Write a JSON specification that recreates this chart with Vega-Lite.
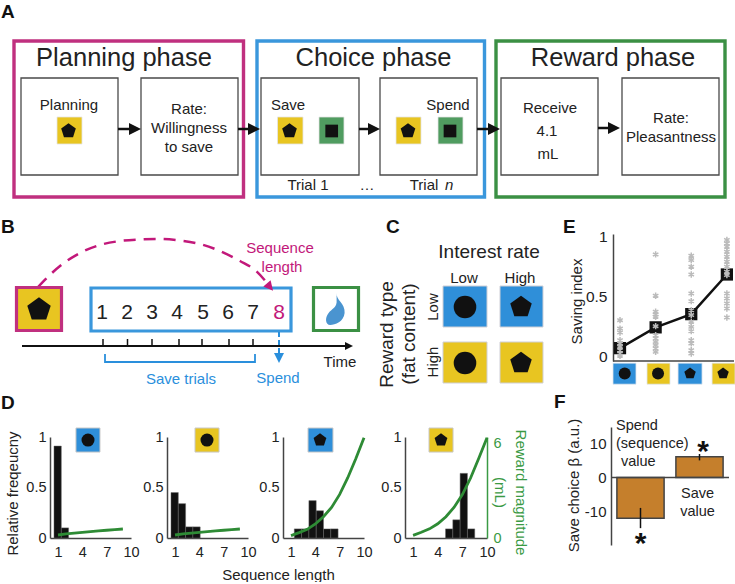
{
"$schema":"https://vega.github.io/schema/vega-lite/v6.json",
"padding":0,"background":"white","spacing":0,"bounds":"flush",
"resolve":{"scale":{"fill":"independent","stroke":"independent","color":"independent","size":"independent","shape":"independent"}},
"config":{"font":"Liberation Sans","view":{"stroke":null},
"axis":{"ticks":false,"grid":false,"domainColor":"#444","domainWidth":1.5,"labelColor":"#222","labelFontSize":14.5,"labelPadding":4,"titleFontSize":15,"titleFontWeight":"normal","titleColor":"#222","labelFlush":false,"labelOverlap":false,"labelBound":false}},
"vconcat":[
{"width":735,"height":234,
 "encoding":{"x":{"field":"x","type":"quantitative","scale":{"domain":[0,735]},"axis":null},"y":{"field":"y","type":"quantitative","scale":{"domain":[234,0]},"axis":null}},
 "layer":[
 {"data":{"values":[{"x":14,"x2":243.5,"y":41,"y2":197,"phase":"Planning"},{"x":257,"x2":484.5,"y":41,"y2":197,"phase":"Choice"},{"x":496,"x2":725,"y":41,"y2":197,"phase":"Reward"}]},
  "mark":{"type":"rect","fill":"transparent","strokeWidth":3.4},
  "encoding":{"x2":{"field":"x2"},"y2":{"field":"y2"},"stroke":{"field":"phase","type":"nominal","scale":{"domain":["Planning","Choice","Reward"],"range":["#c0307f","#3a97dc","#3b9044"]},"legend":null}}},
 {"data":{"values":[{"x":21,"x2":118,"y":78,"y2":175},{"x":141,"x2":238,"y":78,"y2":175},{"x":261,"x2":359,"y":78,"y2":175},{"x":380,"x2":477,"y":78,"y2":175},{"x":501,"x2":598,"y":78,"y2":175},{"x":622,"x2":719,"y":78,"y2":175}]},
  "mark":{"type":"rect","fill":"white","stroke":"#4a4a4a","strokeWidth":1.3},
  "encoding":{"x2":{"field":"x2"},"y2":{"field":"y2"}}},
 {"data":{"values":[{"x":57,"x2":82,"y":117,"y2":144,"kind":"high"},{"x":277.5,"x2":303,"y":117,"y2":144,"kind":"high"},{"x":319,"x2":344,"y":117,"y2":144,"kind":"spend"},{"x":396,"x2":421,"y":117,"y2":144,"kind":"high"},{"x":438,"x2":463,"y":117,"y2":144,"kind":"spend"}]},
  "mark":{"type":"rect","stroke":"#e4e4e4","strokeWidth":0.8},
  "encoding":{"x2":{"field":"x2"},"y2":{"field":"y2"},"fill":{"field":"kind","type":"nominal","scale":{"domain":["high","spend"],"range":["#e8c521","#509c60"]},"legend":null}}},
 {"data":{"values":[{"x":68.5,"y":131},{"x":289.5,"y":131},{"x":408,"y":131}]},
  "mark":{"type":"point","filled":true,"opacity":1,"color":"#111","size":237,"shape":"M0,-1L0.951,-0.309L0.588,0.809L-0.588,0.809L-0.951,-0.309Z"}},
 {"data":{"values":[{"x":331.7,"y":131},{"x":450,"y":131}]},
  "mark":{"type":"point","filled":true,"opacity":1,"color":"#111","size":161,"shape":"square"}},
 {"data":{"name":"arrowsA"},"mark":{"type":"rule","color":"#111","strokeWidth":2.5},"encoding":{"x2":{"field":"x2"}}},
 {"data":{"name":"arrowsA"},"mark":{"type":"point","filled":true,"opacity":1,"color":"#111","size":144,"shape":"M-1,-1L1,0L-1,1Z"},"encoding":{"x":{"field":"x2","type":"quantitative"}}},
 {"data":{"values":[{"x":124,"y":66,"t":"Planning phase","role":"title"},{"x":373.5,"y":66,"t":"Choice phase","role":"title"},{"x":613,"y":66,"t":"Reward phase","role":"title"},
  {"x":69,"y":110,"t":"Planning","role":"label"},{"x":189,"y":114,"t":"Rate:","role":"label"},{"x":189,"y":133,"t":"Willingness","role":"label"},{"x":189,"y":152,"t":"to save","role":"label"},
  {"x":288,"y":110,"t":"Save","role":"label"},{"x":448,"y":110,"t":"Spend","role":"label"},{"x":308,"y":190,"t":"Trial 1","role":"label"},{"x":367,"y":190,"t":"…","role":"label"},{"x":424,"y":190,"t":"Trial","role":"label"},
  {"x":550,"y":113,"t":"Receive","role":"label"},{"x":547,"y":136,"t":"4.1","role":"label"},{"x":548,"y":159,"t":"mL","role":"label"},{"x":671,"y":123,"t":"Rate:","role":"label"},{"x":671,"y":142,"t":"Pleasantness","role":"label"}]},
  "mark":{"type":"text","align":"center","baseline":"alphabetic","color":"#222"},
  "encoding":{"text":{"field":"t"},"size":{"field":"role","type":"nominal","scale":{"type":"ordinal","domain":["title","label"],"range":[25.5,15]},"legend":null}}},
 {"data":{"values":[{"x":445,"y":190,"t":"n"}]},"mark":{"type":"text","align":"left","baseline":"alphabetic","color":"#222","fontSize":15,"fontStyle":"italic"},"encoding":{"text":{"field":"t"}}},
 {"data":{"values":[{"x":1,"y":18,"t":"A"}]},"mark":{"type":"text","align":"left","baseline":"alphabetic","color":"#111","fontSize":19,"fontWeight":"bold"},"encoding":{"text":{"field":"t"}}}
 ]},
{"hconcat":[
 {"vconcat":[
  {"width":611,"height":203,
   "encoding":{"x":{"field":"x","type":"quantitative","scale":{"domain":[0,611]},"axis":null},"y":{"field":"y","type":"quantitative","scale":{"domain":[437,234]},"axis":null}},
   "layer":[
   {"data":{"values":[{"x":38,"y":287,"i":0},{"x":60,"y":266,"i":1},{"x":80,"y":253,"i":2},{"x":100,"y":245,"i":3},{"x":120,"y":241,"i":4},{"x":140,"y":239.5,"i":5},{"x":160,"y":239,"i":6},{"x":180,"y":240.5,"i":7},{"x":200,"y":244,"i":8},{"x":220,"y":251,"i":9},{"x":240,"y":261,"i":10},{"x":255,"y":270,"i":11},{"x":268,"y":284,"i":12}]},
    "mark":{"type":"line","color":"#c2187a","strokeWidth":2.5,"strokeDash":[12,8],"interpolate":"monotone"}},
   {"data":{"values":[{"x":16.5,"x2":61.5,"y":287.5,"y2":330.5,"kind":"plan"},{"x":91,"x2":291,"y":288,"y2":331,"kind":"seq"},{"x":313.5,"x2":358.5,"y":287.5,"y2":330.5,"kind":"reward"}]},
    "mark":{"type":"rect","strokeWidth":3.2},
    "encoding":{"x2":{"field":"x2"},"y2":{"field":"y2"},
     "stroke":{"field":"kind","type":"nominal","scale":{"domain":["plan","seq","reward"],"range":["#c0307f","#3a97dc","#3b9044"]},"legend":null},
     "fill":{"field":"kind","type":"nominal","scale":{"domain":["plan","seq","reward","low","high"],"range":["#e8c521","#ffffff","#ffffff","#2f8fd9","#e8c521"]},"legend":null}}},
   {"data":{"values":[{"x":270,"y":287}]},"mark":{"type":"point","filled":true,"opacity":1,"color":"#c2187a","size":90,"angle":50,"shape":"M-1,-1L1,0L-1,1Z"}},
   {"data":{"values":[{"x":39,"y":309.6}]},"mark":{"type":"point","filled":true,"opacity":1,"color":"#111","size":605,"shape":"M0,-1L0.951,-0.309L0.588,0.809L-0.588,0.809L-0.951,-0.309Z"}},
   {"data":{"values":[{"x":335,"y":309}]},"mark":{"type":"point","filled":true,"opacity":1,"color":"#4a94d0","size":1024,"shape":"M0.1,-1C0.05,-0.55 0.65,-0.35 0.6,0.25C0.55,0.8 0,1 -0.3,1C-0.6,1 -0.65,0.55 -0.4,0.25C-0.2,0 0.05,-0.05 0.1,-0.4Z"}},
   {"data":{"values":[{"x":22,"x2":349,"y":346}]},"mark":{"type":"rule","color":"#111","strokeWidth":2},"encoding":{"x2":{"field":"x2"}}},
   {"data":{"values":[{"x":349,"y":346}]},"mark":{"type":"point","filled":true,"opacity":1,"color":"#111","size":64,"shape":"M-1,-1L1,0L-1,1Z"}},
   {"data":{"values":[{"x":103,"y":339,"y2":346},{"x":127.5,"y":339,"y2":346},{"x":152,"y":339,"y2":346},{"x":179,"y":339,"y2":346},{"x":202,"y":339,"y2":346},{"x":229,"y":339,"y2":346},{"x":253,"y":339,"y2":346}]},
    "mark":{"type":"rule","color":"#111","strokeWidth":1.5},"encoding":{"y2":{"field":"y2"}}},
   {"data":{"values":[{"x":279,"y":332,"y2":353}]},"mark":{"type":"rule","color":"#2a8fdc","strokeWidth":2,"strokeDash":[5,3]},"encoding":{"y2":{"field":"y2"}}},
   {"data":{"values":[{"x":279,"y":358}]},"mark":{"type":"point","filled":true,"opacity":1,"color":"#2a8fdc","size":100,"angle":90,"shape":"M-1,-1L1,0L-1,1Z"}},
   {"data":{"values":[{"x":105,"y":354,"i":0},{"x":105,"y":362,"i":1},{"x":255,"y":362,"i":2},{"x":255,"y":354,"i":3}]},
    "mark":{"type":"line","color":"#2a8fdc","strokeWidth":1.8},"encoding":{"order":{"field":"i","type":"quantitative"}}},
   {"data":{"values":[{"x":443,"x2":487,"y":286,"y2":327,"kind":"low"},{"x":500,"x2":543,"y":286,"y2":327,"kind":"low"},{"x":443,"x2":487,"y":342,"y2":383,"kind":"high"},{"x":500,"x2":543,"y":342,"y2":383,"kind":"high"}]},
    "mark":{"type":"rect","stroke":"#cfcfd6","strokeWidth":1},
    "encoding":{"x2":{"field":"x2"},"y2":{"field":"y2"},"fill":{"field":"kind","type":"nominal","scale":{"domain":["plan","seq","reward","low","high"],"range":["#e8c521","#ffffff","#ffffff","#2f8fd9","#e8c521"]},"legend":null}}},
   {"data":{"values":[{"x":465,"y":307,"glyph":"circle"},{"x":521,"y":307,"glyph":"pentagon"},{"x":465,"y":363,"glyph":"circle"},{"x":521,"y":363,"glyph":"pentagon"}]},
    "mark":{"type":"point","filled":true,"opacity":1,"color":"#111","size":510},
    "encoding":{"shape":{"field":"glyph","type":"nominal","scale":{"domain":["circle","pentagon"],"range":["circle","M0,-1L0.951,-0.309L0.588,0.809L-0.588,0.809L-0.951,-0.309Z"]},"legend":null}}},
   {"data":{"values":[{"x":102,"y":319,"t":"1","role":"digit","tone":"ink"},{"x":127,"y":319,"t":"2","role":"digit","tone":"ink"},{"x":152,"y":319,"t":"3","role":"digit","tone":"ink"},{"x":177,"y":319,"t":"4","role":"digit","tone":"ink"},{"x":203,"y":319,"t":"5","role":"digit","tone":"ink"},{"x":228,"y":319,"t":"6","role":"digit","tone":"ink"},{"x":253,"y":319,"t":"7","role":"digit","tone":"ink"},{"x":279,"y":319,"t":"8","role":"digit","tone":"magenta"},
    {"x":280,"y":253,"t":"Sequence","role":"label","tone":"magenta"},{"x":282,"y":272,"t":"length","role":"label","tone":"magenta"},{"x":340,"y":367,"t":"Time","role":"label","tone":"ink"},{"x":181,"y":384,"t":"Save trials","role":"label","tone":"blue"},{"x":278,"y":383,"t":"Spend","role":"label","tone":"blue"},
    {"x":489,"y":258,"t":"Interest rate","role":"heading","tone":"ink"},{"x":464,"y":283,"t":"Low","role":"label","tone":"ink"},{"x":520,"y":283,"t":"High","role":"label","tone":"ink"}]},
    "mark":{"type":"text","align":"center","baseline":"alphabetic"},
    "encoding":{"text":{"field":"t"},"size":{"field":"role","type":"nominal","scale":{"type":"ordinal","domain":["digit","heading","label"],"range":[21,19,15]},"legend":null},"color":{"field":"tone","type":"nominal","scale":{"domain":["ink","magenta","blue"],"range":["#222222","#c2187a","#2a8fdc"]},"legend":null}}},
   {"data":{"values":[{"x":393,"y":334.5,"t":"Reward type","role":"heading"},{"x":415,"y":334,"t":"(fat content)","role":"heading"},{"x":438,"y":307,"t":"Low","role":"label"},{"x":438,"y":362,"t":"High","role":"label"}]},
    "mark":{"type":"text","align":"center","baseline":"alphabetic","angle":270,"color":"#222"},
    "encoding":{"text":{"field":"t"},"size":{"field":"role","type":"nominal","scale":{"type":"ordinal","domain":["digit","heading","label"],"range":[21,19,15]},"legend":null}}},
   {"data":{"values":[{"x":1,"y":233,"t":"B"},{"x":386,"y":233,"t":"C"},{"x":563,"y":233,"t":"E"},{"x":1,"y":409,"t":"D"},{"x":554,"y":408,"t":"F"}]},
    "mark":{"type":"text","align":"left","baseline":"alphabetic","color":"#111","fontSize":19,"fontWeight":"bold"},"encoding":{"text":{"field":"t"}}}
   ]},
  {"hconcat":[
   {"width":50,"height":1,"data":{"values":[{"a":1}]},"mark":{"type":"point","opacity":0},"encoding":{}},
   {"width":81,"height":101,"resolve":{"scale":{"x":"independent","y":"independent"}},"layer":[
    {"encoding":{"x":{"field":"lo","type":"quantitative","scale":{"domain":[-0.048,11.05]},"axis":null},"x2":{"field":"hi"}},
     "layer":[
     {"data":{"values":[{"lo":0.5,"hi":1.5,"f":0.91},{"lo":1.5,"hi":2.5,"f":0.1}]},"mark":{"type":"rect","fill":"#111","stroke":"#666","strokeWidth":0.5},
      "encoding":{"y":{"field":"f","type":"quantitative","scale":{"domain":[0,1]},"axis":{"values":[0,0.5,1],"labelExpr":"''+datum.value","title":"Relative freqeucny","titleX":-33,"titleY":56,"titleAngle":270,"titleAlign":"center","titleBaseline":"alphabetic"}},"y2":{"datum":0}}},
     {"data":{"values":[{"lo":3.51,"hi":6.8,"f":1.089,"f2":0.851}]},"mark":{"type":"rect","fill":"#2f8fd9","stroke":"#c8c8c8","strokeWidth":1},"encoding":{"y":{"field":"f","type":"quantitative"},"y2":{"field":"f2"}}},
     {"data":{"values":[{"lo":5.16,"f":0.97}]},"mark":{"type":"point","filled":true,"opacity":1,"color":"#111","size":169,"shape":"circle"},"encoding":{"x2":null,"y":{"field":"f","type":"quantitative"}}}
     ]},
    {"data":{"values":[{"l":1,"ml":0.19},{"l":2,"ml":0.26},{"l":3,"ml":0.31},{"l":4,"ml":0.36},{"l":5,"ml":0.41},{"l":6,"ml":0.45},{"l":7,"ml":0.49},{"l":8,"ml":0.53},{"l":9,"ml":0.57}]},
     "mark":{"type":"line","color":"#2e8b35","strokeWidth":2.8},
     "encoding":{"x":{"field":"l","type":"quantitative","scale":{"domain":[0.014,10]},"axis":{"values":[1,4,7,10],"title":null,"labelPadding":7}},"y":{"field":"ml","type":"quantitative","scale":{"domain":[0,6.4]},"axis":null}}}
   ]},
   {"width":36,"height":1,"data":{"values":[{"a":1}]},"mark":{"type":"point","opacity":0},"encoding":{}},
   {"width":81,"height":101,"resolve":{"scale":{"x":"independent","y":"independent"}},"layer":[
    {"encoding":{"x":{"field":"lo","type":"quantitative","scale":{"domain":[-0.048,11.05]},"axis":null},"x2":{"field":"hi"}},
     "layer":[
     {"data":{"values":[{"lo":0.5,"hi":1.5,"f":0.45},{"lo":1.5,"hi":2.5,"f":0.34},{"lo":2.5,"hi":3.5,"f":0.11},{"lo":3.5,"hi":4.5,"f":0.11}]},"mark":{"type":"rect","fill":"#111","stroke":"#666","strokeWidth":0.5},
      "encoding":{"y":{"field":"f","type":"quantitative","scale":{"domain":[0,1]},"axis":{"values":[0,0.5,1],"labelExpr":"''+datum.value","title":null}},"y2":{"datum":0}}},
     {"data":{"values":[{"lo":3.79,"hi":7.08,"f":1.089,"f2":0.851}]},"mark":{"type":"rect","fill":"#e8c521","stroke":"#c8c8c8","strokeWidth":1},"encoding":{"y":{"field":"f","type":"quantitative"},"y2":{"field":"f2"}}},
     {"data":{"values":[{"lo":5.43,"f":0.97}]},"mark":{"type":"point","filled":true,"opacity":1,"color":"#111","size":169,"shape":"circle"},"encoding":{"x2":null,"y":{"field":"f","type":"quantitative"}}}
     ]},
    {"data":{"values":[{"l":1,"ml":0.19},{"l":2,"ml":0.26},{"l":3,"ml":0.31},{"l":4,"ml":0.36},{"l":5,"ml":0.41},{"l":6,"ml":0.45},{"l":7,"ml":0.49},{"l":8,"ml":0.53},{"l":9,"ml":0.57}]},
     "mark":{"type":"line","color":"#2e8b35","strokeWidth":2.8},
     "encoding":{"x":{"field":"l","type":"quantitative","scale":{"domain":[0.014,10]},"axis":{"values":[1,4,7,10],"title":"Sequence length","titleX":111,"titleY":41,"titleAlign":"center","titleBaseline":"alphabetic","labelPadding":7}},"y":{"field":"ml","type":"quantitative","scale":{"domain":[0,6.4]},"axis":null}}}
   ]},
   {"width":35,"height":1,"data":{"values":[{"a":1}]},"mark":{"type":"point","opacity":0},"encoding":{}},
   {"width":81,"height":101,"resolve":{"scale":{"x":"independent","y":"independent"}},"layer":[
    {"encoding":{"x":{"field":"lo","type":"quantitative","scale":{"domain":[-0.048,11.05]},"axis":null},"x2":{"field":"hi"}},
     "layer":[
     {"data":{"values":[{"lo":1.5,"hi":2.5,"f":0.09},{"lo":2.5,"hi":3.5,"f":0.09},{"lo":3.5,"hi":4.5,"f":0.37},{"lo":4.5,"hi":5.5,"f":0.27},{"lo":5.5,"hi":6.5,"f":0.09},{"lo":6.5,"hi":7.5,"f":0.09}]},"mark":{"type":"rect","fill":"#111","stroke":"#666","strokeWidth":0.5},
      "encoding":{"y":{"field":"f","type":"quantitative","scale":{"domain":[0,1]},"axis":{"values":[0,0.5,1],"labelExpr":"''+datum.value","title":null}},"y2":{"datum":0}}},
     {"data":{"values":[{"lo":3.38,"hi":6.8,"f":1.089,"f2":0.851}]},"mark":{"type":"rect","fill":"#2f8fd9","stroke":"#c8c8c8","strokeWidth":1},"encoding":{"y":{"field":"f","type":"quantitative"},"y2":{"field":"f2"}}},
     {"data":{"values":[{"lo":5.02,"f":0.97}]},"mark":{"type":"point","filled":true,"opacity":1,"color":"#111","size":180,"shape":"M0,-1L0.951,-0.309L0.588,0.809L-0.588,0.809L-0.951,-0.309Z"},"encoding":{"x2":null,"y":{"field":"f","type":"quantitative"}}}
     ]},
    {"data":{"values":[{"l":1,"ml":0.15},{"l":2,"ml":0.34},{"l":3,"ml":0.55},{"l":4,"ml":0.89},{"l":5,"ml":1.35},{"l":6,"ml":1.94},{"l":7,"ml":2.76},{"l":8,"ml":3.82},{"l":9,"ml":5.04},{"l":10,"ml":6.35}]},
     "mark":{"type":"line","color":"#2e8b35","strokeWidth":2.8},
     "encoding":{"x":{"field":"l","type":"quantitative","scale":{"domain":[0.014,10]},"axis":{"values":[1,4,7,10],"title":null,"labelPadding":7}},"y":{"field":"ml","type":"quantitative","scale":{"domain":[0,6.4]},"axis":null}}}
   ]},
   {"width":41,"height":1,"data":{"values":[{"a":1}]},"mark":{"type":"point","opacity":0},"encoding":{}},
   {"width":82,"height":101,"resolve":{"scale":{"x":"independent","y":"independent"}},"layer":[
    {"encoding":{"x":{"field":"lo","type":"quantitative","scale":{"domain":[-0.048,11.18]},"axis":null},"x2":{"field":"hi"}},
     "layer":[
     {"data":{"values":[{"lo":5.5,"hi":6.5,"f":0.09},{"lo":6.5,"hi":7.5,"f":0.18},{"lo":7.5,"hi":8.5,"f":0.64},{"lo":8.5,"hi":9.5,"f":0.09}]},"mark":{"type":"rect","fill":"#111","stroke":"#666","strokeWidth":0.5},
      "encoding":{"y":{"field":"f","type":"quantitative","scale":{"domain":[0,1]},"axis":{"values":[0,0.5,1],"labelExpr":"''+datum.value","title":null}},"y2":{"datum":0}}},
     {"data":{"values":[{"lo":3.24,"hi":6.53,"f":1.089,"f2":0.851}]},"mark":{"type":"rect","fill":"#e8c521","stroke":"#c8c8c8","strokeWidth":1},"encoding":{"y":{"field":"f","type":"quantitative"},"y2":{"field":"f2"}}},
     {"data":{"values":[{"lo":4.88,"f":0.97}]},"mark":{"type":"point","filled":true,"opacity":1,"color":"#111","size":180,"shape":"M0,-1L0.951,-0.309L0.588,0.809L-0.588,0.809L-0.951,-0.309Z"},"encoding":{"x2":null,"y":{"field":"f","type":"quantitative"}}}
     ]},
    {"data":{"values":[{"l":1,"ml":0.17},{"l":2,"ml":0.36},{"l":3,"ml":0.58},{"l":4,"ml":0.9},{"l":5,"ml":1.35},{"l":6,"ml":1.95},{"l":7,"ml":2.75},{"l":8,"ml":3.8},{"l":9,"ml":5.05},{"l":10,"ml":6.35}]},
     "mark":{"type":"line","color":"#2e8b35","strokeWidth":2.8},
     "encoding":{"x":{"field":"l","type":"quantitative","scale":{"domain":[0.014,10]},"axis":{"values":[1,4,7,10],"title":null,"labelPadding":7}},
      "y":{"field":"ml","type":"quantitative","scale":{"domain":[0,6.4]},"axis":{"orient":"right","values":[0,6],"domainColor":"#3a9a44","labelColor":"#3a9a44","labelPadding":6,"title":["Reward magnitude","(mL)"],"titleColor":"#3a9a44","titleX":28,"titleY":55,"titleAngle":90,"titleAlign":"center","titleBaseline":"alphabetic","titleLineHeight":21}}}}
   ]}
  ],"spacing":0,"bounds":"flush","resolve":{"scale":{"fill":"independent","stroke":"independent","color":"independent","size":"independent","shape":"independent"}}}
 ],"spacing":0,"bounds":"flush","resolve":{"scale":{"fill":"independent","stroke":"independent","color":"independent","size":"independent","shape":"independent"}}},
 {"vconcat":[
  {"width":123,"height":127,
   "encoding":{"x":{"field":"x","type":"quantitative","scale":{"domain":[0.747,4.2]},"axis":null},"y":{"field":"y","type":"quantitative","scale":{"domain":[-0.04,1.017]},"axis":{"offset":-2,"values":[0,0.5,1],"labelExpr":"''+datum.value","labelFontSize":15.5,"labelPadding":6,"title":"Saving index","titleX":-32,"titleY":67,"titleAngle":270,"titleAlign":"center","titleBaseline":"alphabetic"}}},
   "layer":[
   {"data":{"values":[{"x":0.803,"x2":1.449,"y":-0.058,"y2":-0.233,"kind":"low"},{"x":1.758,"x2":2.404,"y":-0.058,"y2":-0.233,"kind":"high"},{"x":2.629,"x2":3.303,"y":-0.058,"y2":-0.233,"kind":"low"},{"x":3.584,"x2":4.229,"y":-0.058,"y2":-0.233,"kind":"high"}]},
    "mark":{"type":"rect","stroke":"#dfe6ee","strokeWidth":0.8},
    "encoding":{"x2":{"field":"x2"},"y2":{"field":"y2"},"fill":{"field":"kind","type":"nominal","scale":{"domain":["low","high"],"range":["#2f8fd9","#e8c521"]},"legend":null}}},
   {"data":{"values":[{"x":1.132,"y":-0.144,"glyph":"circle"},{"x":2.067,"y":-0.144,"glyph":"circle"},{"x":2.966,"y":-0.144,"glyph":"pentagon"},{"x":3.893,"y":-0.144,"glyph":"pentagon"}]},
    "mark":{"type":"point","filled":true,"opacity":1,"color":"#111","size":144},
    "encoding":{"shape":{"field":"glyph","type":"nominal","scale":{"domain":["circle","pentagon"],"range":["circle","M0,-1L0.951,-0.309L0.588,0.809L-0.588,0.809L-0.951,-0.309Z"]},"legend":null}}},
   {"data":{"values":[{"x":0.803,"x2":4.2,"y":-0.04}]},"mark":{"type":"rule","color":"#444","strokeWidth":1.5},"encoding":{"x2":{"field":"x2"}}},
   {"data":{"name":"means"},"mark":{"type":"line","color":"#111","strokeWidth":2.5}},
   {"data":{"name":"means"},"mark":{"type":"point","filled":true,"opacity":1,"color":"#111","size":150,"shape":"square"}},
   {"data":{"name":"subjects"},"mark":{"type":"point","filled":false,"opacity":1,"color":"#bbbbbb","strokeWidth":1.5,"size":40,"shape":"M0,-1L0,1M-0.87,-0.5L0.87,0.5M-0.87,0.5L0.87,-0.5"}}
   ]},
  {"width":118,"height":118,
   "layer":[
   {"data":{"values":[{"term":"Spend (sequence) value","beta":-12.1},{"term":"Save value","beta":6.2}]},
    "mark":{"type":"bar","fill":"#c57f2c","stroke":"#444","strokeWidth":1.5},
    "encoding":{"x":{"field":"term","type":"nominal","sort":null,"scale":{"type":"band","domain":["Spend (sequence) value","Save value"],"paddingInner":0.2,"paddingOuter":0.1},"axis":null},
     "y":{"field":"beta","type":"quantitative","scale":{"domain":[-19.4,13.8]},"axis":{"values":[-10,0,10],"labelExpr":"''+datum.value","labelFontSize":15,"labelPadding":5,"title":"Save choice  β (a.u.)","titleX":-33,"titleY":58,"titleAngle":270,"titleAlign":"center","titleBaseline":"alphabetic"}}}},
   {"data":{"values":[{"a":1}]},"mark":{"type":"rule","color":"#444","strokeWidth":1.5},"encoding":{"y":{"datum":0,"type":"quantitative"}}},
   {"data":{"values":[{"term":"Spend (sequence) value","lo":-15,"hi":-9},{"term":"Save value","lo":5.1,"hi":7}]},
    "mark":{"type":"rule","color":"#111","strokeWidth":1.5},
    "encoding":{"x":{"field":"term","type":"nominal"},"y":{"field":"lo","type":"quantitative"},"y2":{"field":"hi"}}},
   {"data":{"values":[{"term":"Spend (sequence) value","y":-22.5}]},"mark":{"type":"text","text":"*","fontWeight":"bold","fontSize":30,"baseline":"alphabetic","color":"#111"},
    "encoding":{"x":{"field":"term","type":"nominal"},"y":{"field":"y","type":"quantitative"}}},
   {"data":{"values":[{"term":"Save value","y":4.8}]},"mark":{"type":"text","text":"*","fontWeight":"bold","fontSize":30,"baseline":"alphabetic","color":"#111","dx":3.5},
    "encoding":{"x":{"field":"term","type":"nominal"},"y":{"field":"y","type":"quantitative"}}},
   {"data":{"values":[{"term":"Spend (sequence) value","y":14.08,"t":"Spend"},{"term":"Spend (sequence) value","y":8.73,"t":"(sequence)"}]},"mark":{"type":"text","align":"left","baseline":"alphabetic","fontSize":14.5,"color":"#222","dx":-24.5},
    "encoding":{"x":{"field":"term","type":"nominal"},"y":{"field":"y","type":"quantitative"},"text":{"field":"t"}}},
   {"data":{"values":[{"term":"Spend (sequence) value","y":3.38,"t":"value"}]},"mark":{"type":"text","align":"left","baseline":"alphabetic","fontSize":14.5,"color":"#222","dx":-19.5},
    "encoding":{"x":{"field":"term","type":"nominal"},"y":{"field":"y","type":"quantitative"},"text":{"field":"t"}}},
   {"data":{"values":[{"term":"Save value","y":-5.92,"t":"Save"},{"term":"Save value","y":-11.27,"t":"value"}]},"mark":{"type":"text","align":"center","baseline":"alphabetic","fontSize":14.5,"color":"#222","dx":-2},
    "encoding":{"x":{"field":"term","type":"nominal"},"y":{"field":"y","type":"quantitative"},"text":{"field":"t"}}}
   ]}
 ],"spacing":66,"bounds":"flush","resolve":{"scale":{"fill":"independent","stroke":"independent","color":"independent","size":"independent","shape":"independent"}}}
],"spacing":611,"bounds":"flush","resolve":{"scale":{"fill":"independent","stroke":"independent","color":"independent","size":"independent","shape":"independent"}}}
],
"datasets":{
 "arrowsA":[{"x":118,"x2":135,"y":129},{"x":238,"x2":254,"y":129},{"x":359,"x2":374,"y":129},{"x":477,"x2":494,"y":129},{"x":598,"x2":614,"y":128}],
 "means":[{"x":1,"y":0.067},{"x":2,"y":0.24},{"x":3,"y":0.35},{"x":4,"y":0.68}],
 "subjects":[{"x":1,"y":0.3},{"x":1,"y":0.23},{"x":1,"y":0.197},{"x":1,"y":0.133},{"x":1,"y":0.105},{"x":1,"y":0.078},{"x":1,"y":0.05},{"x":1,"y":0.022},{"x":1,"y":0.003},
 {"x":2,"y":0.847},{"x":2,"y":0.503},{"x":2,"y":0.37},{"x":2,"y":0.347},{"x":2,"y":0.328},{"x":2,"y":0.25},{"x":2,"y":0.175},{"x":2,"y":0.147},{"x":2,"y":0.119},{"x":2,"y":0.092},{"x":2,"y":0.064},{"x":2,"y":0.036},
 {"x":3,"y":0.836},{"x":3,"y":0.8},{"x":3,"y":0.744},{"x":3,"y":0.68},{"x":3,"y":0.522},{"x":3,"y":0.458},{"x":3,"y":0.383},{"x":3,"y":0.342},{"x":3,"y":0.286},{"x":3,"y":0.244},{"x":3,"y":0.208},{"x":3,"y":0.133},{"x":3,"y":0.106},{"x":3,"y":0.05},{"x":3,"y":0.022},
 {"x":4,"y":0.967},{"x":4,"y":0.939},{"x":4,"y":0.911},{"x":4,"y":0.869},{"x":4,"y":0.828},{"x":4,"y":0.786},{"x":4,"y":0.744},{"x":4,"y":0.703},{"x":4,"y":0.675},{"x":4,"y":0.522},{"x":4,"y":0.481},{"x":4,"y":0.439},{"x":4,"y":0.397},{"x":4,"y":0.322}]
}
}
